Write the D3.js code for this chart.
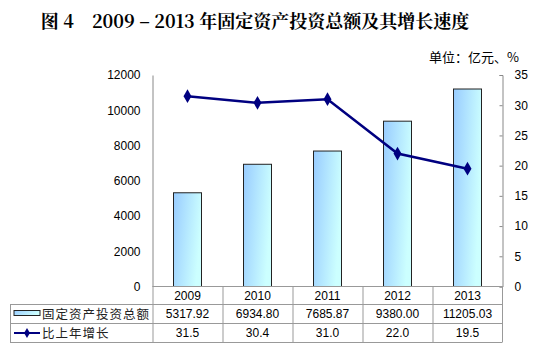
<!DOCTYPE html>
<html><head><meta charset="utf-8">
<script src="https://cdn.jsdelivr.net/npm/d3@7/dist/d3.min.js"></script>
<style>body{margin:0;background:#fff}svg{display:block}</style>
</head><body>
<svg id="c" width="540" height="358"></svg>
<script>
const years = ["2009","2010","2011","2012","2013"];
const investment = [5317.92, 6934.80, 7685.87, 9380.00, 11205.03];
const growth = [31.5, 30.4, 31.0, 22.0, 19.5];
const leftTicks = [0,2000,4000,6000,8000,10000,12000];
const rightTicks = [0,5,10,15,20,25,30,35];
const seriesNames = ["固定资产投资总额","比上年增长"];
const titleText = "图 4\u00a0\u00a0\u00a0\u00a02009 – 2013 年固定资产投资总额及其增长速度";
const unitText = "单位：亿元、%";

const svg = d3.select("#c");
const L = 152.5, R = 502.5, T = 75, B = 286.5;
const x = d3.scaleBand().domain(years).range([L, R]);
const yL = d3.scaleLinear().domain([0, 12000]).range([B, T]);
const yR = d3.scaleLinear().domain([0, 35]).range([B, T]);
const sans = "'Liberation Sans', Arial, sans-serif";
const cjk = "'Noto Sans CJK SC', sans-serif";

const defs = svg.append("defs");
const g = defs.append("linearGradient").attr("id","bg").attr("x1","0").attr("y1","0").attr("x2","1").attr("y2","0.3");
g.append("stop").attr("offset","0").attr("stop-color","#99ccff");
g.append("stop").attr("offset","1").attr("stop-color","#ccffff");

svg.append("text").attr("x",255).attr("y",28).attr("text-anchor","middle")
  .style("font-family","'Noto Serif CJK SC','Liberation Serif','Noto Sans CJK SC',serif")
  .style("font-weight","bold").style("font-size","18px").text(titleText);
svg.append("text").attr("x",519).attr("y",62).attr("text-anchor","end")
  .style("font-family",cjk).style("font-size","13px").text(unitText);

// bars
const bw = 28;
svg.append("g").selectAll("rect").data(investment).join("rect")
  .attr("x",(d,i)=>x(years[i])+x.bandwidth()/2-bw/2)
  .attr("y",d=>yL(d)).attr("width",bw).attr("height",d=>B-yL(d))
  .attr("fill","url(#bg)").attr("stroke","#222").attr("stroke-width",1);

// left axis
const la = svg.append("g").attr("transform",`translate(${L},0)`)
  .call(d3.axisLeft(yL).tickValues(leftTicks).tickFormat(d3.format("d")).tickSize(0).tickPadding(12));
la.select(".domain").attr("stroke","#888");
la.selectAll("text").style("font-family",sans).style("font-size","12px").attr("fill","#000");

// right axis
const ra = svg.append("g").attr("transform",`translate(${R},0)`)
  .call(d3.axisRight(yR).tickValues(rightTicks).tickSize(-3).tickPadding(12));
ra.select(".domain").attr("stroke","#888");
ra.selectAll("line").attr("stroke","#888");
ra.selectAll("text").style("font-family",sans).style("font-size","12px").attr("fill","#000");

// line
const cx = i => x(years[i]) + x.bandwidth()/2;
svg.append("path").datum(growth)
  .attr("d", d3.line().x((d,i)=>cx(i)).y(d=>yR(d)))
  .attr("fill","none").attr("stroke","#000080").attr("stroke-width",2.5);
svg.append("g").selectAll("path").data(growth).join("path")
  .attr("d", d3.symbol(d3.symbolDiamond, 55))
  .attr("transform",(d,i)=>`translate(${cx(i)},${yR(d)})`).attr("fill","#000080");

// data table
const rows = [B, 304, 323, 342];
const tl = svg.append("g").attr("stroke","#999").attr("stroke-width",1);
tl.append("line").attr("x1",L).attr("x2",R).attr("y1",B).attr("y2",B);
[rows[1], rows[2], rows[3]].forEach(yy=>tl.append("line").attr("x1",10).attr("x2",R).attr("y1",yy+0.5).attr("y2",yy+0.5));
tl.append("line").attr("x1",10.5).attr("x2",10.5).attr("y1",rows[1]).attr("y2",rows[3]);
years.forEach((yr,i)=>tl.append("line").attr("x1",x(yr)+0.5).attr("x2",x(yr)+0.5).attr("y1",B).attr("y2",rows[3]));
tl.append("line").attr("x1",R).attr("x2",R).attr("y1",B).attr("y2",rows[3]);

const tf = t => t.style("font-family",sans).style("font-size","12px").attr("text-anchor","middle").attr("fill","#000");
svg.append("g").selectAll("text").data(years).join("text")
  .attr("x",(d,i)=>cx(i)).attr("y",300).text(d=>d).call(tf);
svg.append("g").selectAll("text").data(investment).join("text")
  .attr("x",(d,i)=>cx(i)).attr("y",318).text(d=>d.toFixed(2)).call(tf);
svg.append("g").selectAll("text").data(growth).join("text")
  .attr("x",(d,i)=>cx(i)).attr("y",337).text(d=>d.toFixed(1)).call(tf);

// legend keys
svg.append("rect").attr("x",14).attr("y",310.5).attr("width",26).attr("height",5)
  .attr("fill","url(#bg)").attr("stroke","#222");
svg.append("line").attr("x1",14).attr("x2",40).attr("y1",333).attr("y2",333).attr("stroke","#000080").attr("stroke-width",2);
svg.append("path").attr("d",d3.symbol(d3.symbolDiamond,30)).attr("transform","translate(27,333)").attr("fill","#000080");
svg.append("g").selectAll("text").data(seriesNames).join("text")
  .attr("x",42).attr("y",(d,i)=>i?337.5:318.5)
  .style("font-family",cjk).style("font-size","12.5px").style("letter-spacing","1px").attr("fill","#222").text(d=>d);
</script>
</body></html>
